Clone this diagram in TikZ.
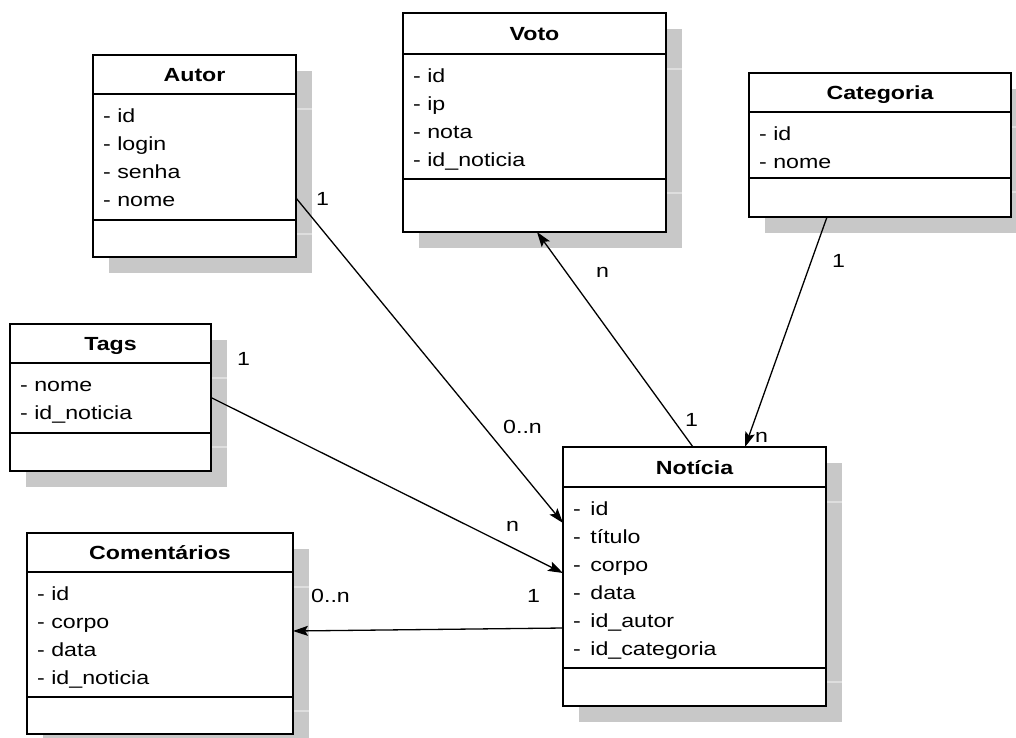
\documentclass[tikz,border=0pt]{standalone}
\usepackage{fontspec}
\setmainfont[FakeStretch=1.22]{Liberation Sans}
\usetikzlibrary{arrows.meta,fit}
\definecolor{shadowgray}{RGB}{200,200,200}
\definecolor{shadowline}{RGB}{222,222,222}

% name, L, T, R, B, s1, s2, title
\newcommand{\umlclassbox}[8]{%
  \fill[shadowgray] ({#2+16},{#3+16}) rectangle ({#4+16},{#5+16});
  \draw[shadowline,line width=1.5pt] ({#2+16},{#6+15}) -- ({#4+16},{#6+15});
  \draw[shadowline,line width=1.5pt] ({#2+16},{#7+14}) -- ({#4+16},{#7+14});
  \node[classframe,fit={(#2,#3) (#4,#5)}] (#1) {};
  \draw[sepline] (#2,#6) -- (#4,#6);
  \draw[sepline] (#2,#7) -- (#4,#7);
  \node[titletext] (#1-title) at ({(#2+#4)/2},{(#3+#6)/2+7}) {#8};
}
% name, L, s1, list
\newcommand{\umlattrs}[4]{%
  \foreach \a [count=\i from 0] in {#4}
    \node[attrtext] (#1-a\i) at ({#2+10},{#3+28+28*\i}) {\a};
}

\begin{document}
\begin{tikzpicture}[x=1pt,y=-1pt,
  classframe/.style={draw,fill=white,line width=2.6pt,inner sep=0pt,outer sep=0pt},
  sepline/.style={line width=2.6pt},
  titletext/.style={anchor=base,inner sep=0pt,font=\fontsize{19}{23}\selectfont\bfseries},
  attrtext/.style={anchor=base west,inner sep=0pt,font=\fontsize{19}{23}\selectfont},
  lbl/.style={anchor=base west,inner sep=0pt,font=\fontsize{19}{23}\selectfont},
  conn/.style={line width=1.3pt,-{Stealth[length=15pt,width=10pt,inset=3pt]}}
]
\useasboundingbox (0,0) rectangle (1016,737);
\clip (0,0) rectangle (1016,737);
\fill[white] (0,0) rectangle (1016,737);

\umlclassbox{autor}{93}{55}{296}{257}{94}{220}{Autor}
\umlattrs{autor}{93}{94}{- id,- login,- senha,- nome}

\umlclassbox{voto}{403}{13}{666}{232}{54}{179}{Voto}
\umlattrs{voto}{403}{54}{- id,- ip,- nota,- id\_noticia}

\umlclassbox{categoria}{749}{73}{1011}{217}{112}{178}{Categoria}
\umlattrs{categoria}{749}{112}{- id,- nome}

\umlclassbox{tags}{10}{324}{211}{471}{363}{433}{Tags}
\umlattrs{tags}{10}{363}{- nome,- id\_noticia}

\umlclassbox{comentarios}{27}{533}{293}{734}{572}{697}{Comentários}
\umlattrs{comentarios}{27}{572}{- id,- corpo,- data,- id\_noticia}

\umlclassbox{noticia}{563}{447}{826}{706}{487}{668}{Notícia}
\umlattrs{noticia}{563}{487}{-\kern3pt\ id,-\kern3pt\ título,-\kern3pt\ corpo,-\kern3pt\ data,-\kern3pt\ id\_autor,-\kern3pt\ id\_categoria}

% connectors
\draw[conn] ([yshift=-42pt]autor.east) -- ([yshift=53.5pt]noticia.west);
\draw[conn] (tags.east) -- ([yshift=3.5pt]noticia.west);
\draw[conn] ([yshift=-51.5pt]noticia.west) -- ([yshift=2.5pt]comentarios.east);
\draw[conn] ([xshift=-1.5pt]noticia.north) -- ([xshift=2.5pt]voto.south);
\draw[conn] ([xshift=-53pt]categoria.south) -- ([xshift=50.5pt]noticia.north);

% multiplicities
\node[lbl] (m1) at (316,205) {1};
\node[lbl] (m2) at (503,433) {0..n};
\node[lbl] (m3) at (237,365) {1};
\node[lbl] (m4) at (506,531) {n};
\node[lbl] (m5) at (311,602) {0..n};
\node[lbl] (m6) at (527,602) {1};
\node[lbl] (m7) at (596,277) {n};
\node[lbl] (m8) at (685,426) {1};
\node[lbl] (m9) at (832,267) {1};
\node[lbl] (m10) at (755,442) {n};
\end{tikzpicture}
\end{document}
